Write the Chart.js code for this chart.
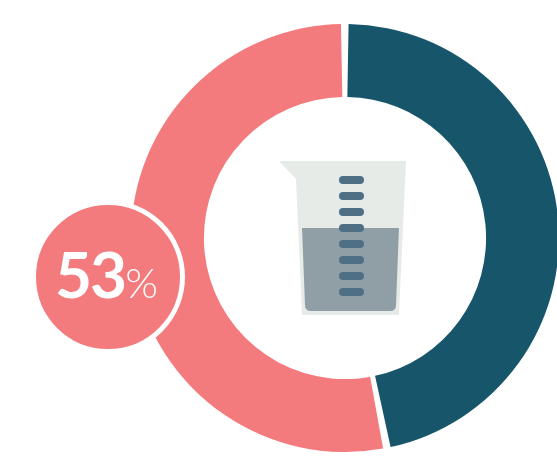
<!DOCTYPE html>
<html>
<head>
<title>53%</title>
<style>
  html, body { margin: 0; width: 557px; height: 459px; overflow: hidden; background: #fff; }
  #wrap { position: absolute; left: 131px; top: 24px; width: 428px; height: 428px; }
  #beaker { position: absolute; left: 0; top: 0; }
  #badge { position: absolute; left: 31px; top: 200px; width: 144px; height: 144px; border-radius: 50%;
           background: #f47b7d; border: 5px solid #fff; }
  #label { position: absolute; left: 55px; top: 236px; color: #fff; font-family: Lato, sans-serif; white-space: nowrap; line-height: 76px; }
  #num { font-size: 64px; font-weight: 700; letter-spacing: -2px; }
  #pct { font-size: 42px; font-weight: 300; }
</style>
</head>
<body>
<div id="wrap"><canvas id="ring" width="428" height="428"></canvas></div>

<svg id="beaker" width="557" height="459">
  <polygon points="279,161 406,161 399,315 302,315 296,179" fill="#e6ebe8"/>
  <path d="M302 228 H399 L396 305 Q396 311 390 311 H311 Q305 311 305 305 Z" fill="#909fa5"/>
  <g id="ticks" fill="#4f6f85"></g>
</svg>

<div id="badge"></div>
<div id="label"><span id="num"></span><span id="pct">%</span></div>

<script src="https://cdn.jsdelivr.net/npm/chart.js"></script>
<script>
  var labels = ["Other", "Share"];
  var values = [46.85, 53.15];
  var colors = ["#17556b", "#f47b7d"];
  var tick_rows = [180, 196, 212, 228, 244, 260, 276, 292];

  // scale marks on the beaker
  var ticks = document.getElementById("ticks");
  for (var i = 0; i < tick_rows.length; i++) {
    var r = document.createElementNS("http://www.w3.org/2000/svg", "rect");
    r.setAttribute("x", 339);
    r.setAttribute("y", tick_rows[i] - 4);
    r.setAttribute("width", 25);
    r.setAttribute("height", 8);
    r.setAttribute("rx", 4);
    ticks.appendChild(r);
  }

  document.getElementById("num").textContent = Math.round(values[1]);

  new Chart(document.getElementById("ring"), {
    type: "doughnut",
    data: {
      labels: labels,
      datasets: [{
        data: values,
        backgroundColor: colors,
        borderWidth: 0,
        spacing: 4
      }]
    },
    options: {
      responsive: false,
      animation: false,
      cutout: "65.6%",
      layout: { padding: 0 },
      plugins: { legend: { display: false }, tooltip: { enabled: false } }
    }
  });
</script>
</body>
</html>
